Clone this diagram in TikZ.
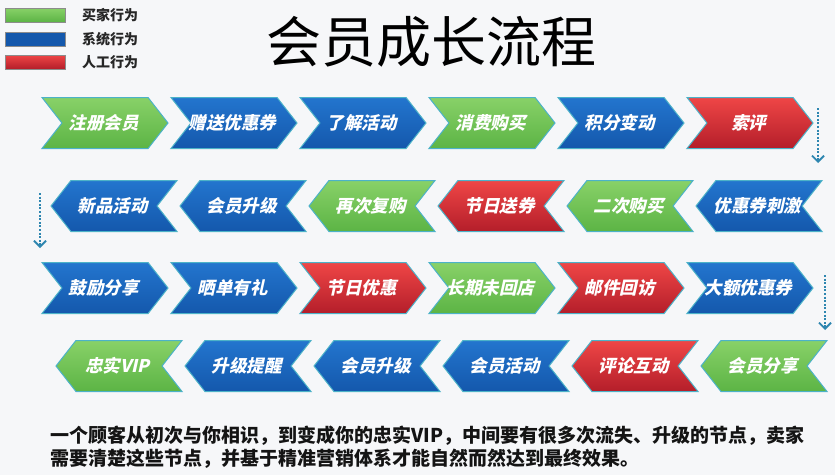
\documentclass[tikz,border=0pt]{standalone}
\usepackage{fontspec}
\usetikzlibrary{shapes.symbols,arrows.meta}
\newfontfamily\cjk{Noto Sans CJK SC}
\definecolor{gtop}{HTML}{88D168}
\definecolor{gbot}{HTML}{5CB445}
\definecolor{btop}{HTML}{2375CE}
\definecolor{bbot}{HTML}{1458AC}
\definecolor{rtop}{HTML}{EF4646}
\definecolor{rbot}{HTML}{B41E2A}
\definecolor{edge}{HTML}{4CB2C8}
\definecolor{arrowc}{HTML}{2E86B0}
\definecolor{bg}{HTML}{F6F7F9}
\tikzset{
  chev/.style={signal, signal pointer angle=104, minimum width=126pt, minimum height=51pt,
    inner sep=0pt, draw=edge, line width=1pt},
  chevR/.style={chev, signal to=east, signal from=west},
  chevL/.style={chev, signal to=west, signal from=east},
  cg/.style={top color=gtop, bottom color=gbot},
  cb/.style={top color=btop, bottom color=bbot},
  cr/.style={top color=rtop, bottom color=rbot},
  lab/.style={transform shape, xslant=0.22, inner sep=0pt, text=white,
    font=\fontsize{17.5}{18}\selectfont\cjk\bfseries},
  flowarrow/.style={draw=arrowc, line width=1.6pt, dash pattern=on 2pt off 1.6pt,
    -{Straight Barb[length=6pt,width=12pt,line width=1.8pt]}},
  legbox/.style={draw=black!45, line width=0.6pt, minimum width=60pt, minimum height=14pt, inner sep=0pt},
  legtext/.style={anchor=west, inner sep=0pt, text=black!85, font=\fontsize{14}{14}\selectfont\cjk\bfseries},
  bottomtext/.style={anchor=west, inner sep=0pt, text=black!92, font=\fontsize{19}{20}\selectfont\cjk\bfseries}
}
\begin{document}
\begin{tikzpicture}[x=1pt,y=-1pt]
\fill[bg] (0,0) rectangle (835,475);
\useasboundingbox (0,0) rectangle (835,475);

% legend
\node[legbox, cg] (lg) at (35,15) {};
\node[legbox, fill=bbot] (lb) at (35,39) {};
\node[legbox, cr] (lr) at (35,62) {};
\node[legtext] (lgt) at (82,15) {买家行为};
\node[legtext] (lbt) at (82,39) {系统行为};
\node[legtext] (lrt) at (82,62) {人工行为};

% title
\node[inner sep=0pt, font=\fontsize{55}{60}\selectfont\cjk] (title) at (431,42) {会员成长流程};

% row 1
\node[chevR, cg] (r1a) at (105,123) {};
\node[chevR, cb] (r1b) at (234,123) {};
\node[chevR, cb] (r1c) at (363,123) {};
\node[chevR, cg] (r1d) at (492,123) {};
\node[chevR, cb] (r1e) at (621,123) {};
\node[chevR, cr] (r1f) at (750,123) {};
\node[lab] (t1a) at (r1a.center) {注册会员};
\node[lab] (t1b) at (r1b.center) {赠送优惠券};
\node[lab] (t1c) at (r1c.center) {了解活动};
\node[lab] (t1d) at (r1d.center) {消费购买};
\node[lab] (t1e) at (r1e.center) {积分变动};
\node[lab] (t1f) at (r1f.center) {索评};

% row 2
\node[chevL, cb] (r2a) at (114,206) {};
\node[chevL, cb] (r2b) at (243,206) {};
\node[chevL, cg] (r2c) at (372,206) {};
\node[chevL, cr] (r2d) at (501,206) {};
\node[chevL, cg] (r2e) at (630,206) {};
\node[chevL, cb] (r2f) at (759,206) {};
\node[lab] (t2a) at (r2a.center) {新品活动};
\node[lab] (t2b) at (r2b.center) {会员升级};
\node[lab] (t2c) at (r2c.center) {再次复购};
\node[lab] (t2d) at (r2d.center) {节日送券};
\node[lab] (t2e) at (r2e.center) {二次购买};
\node[lab] (t2f) at (r2f.center) {优惠券刺激};

% row 3
\node[chevR, cb] (r3a) at (105,288) {};
\node[chevR, cb] (r3b) at (234,288) {};
\node[chevR, cr] (r3c) at (363,288) {};
\node[chevR, cg] (r3d) at (492,288) {};
\node[chevR, cr] (r3e) at (621,288) {};
\node[chevR, cb] (r3f) at (750,288) {};
\node[lab] (t3a) at (r3a.center) {鼓励分享};
\node[lab] (t3b) at (r3b.center) {晒单有礼};
\node[lab] (t3c) at (r3c.center) {节日优惠};
\node[lab] (t3d) at (r3d.center) {长期未回店};
\node[lab] (t3e) at (r3e.center) {邮件回访};
\node[lab] (t3f) at (r3f.center) {大额优惠券};

% row 4
\node[chevL, cg] (r4a) at (119,366) {};
\node[chevL, cb] (r4b) at (248,366) {};
\node[chevL, cb] (r4c) at (377,366) {};
\node[chevL, cb] (r4d) at (506,366) {};
\node[chevL, cr] (r4e) at (635,366) {};
\node[chevL, cg] (r4f) at (764,366) {};
\node[lab] (t4a) at (r4a.center) {忠实VIP};
\node[lab] (t4b) at (r4b.center) {升级提醒};
\node[lab] (t4c) at (r4c.center) {会员升级};
\node[lab] (t4d) at (r4d.center) {会员活动};
\node[lab] (t4e) at (r4e.center) {评论互动};
\node[lab] (t4f) at (r4f.center) {会员分享};

% dotted arrows between rows
\coordinate (a1s) at (818,108);
\coordinate (a1e) at (818,163);
\coordinate (a2s) at (40,193);
\coordinate (a2e) at (40,248);
\coordinate (a3s) at (825,275);
\coordinate (a3e) at (825,330);
\draw[flowarrow] (a1s) -- (a1e);
\draw[flowarrow] (a2s) -- (a2e);
\draw[flowarrow] (a3s) -- (a3e);

% bottom text
\node[bottomtext] (bt1) at (50,436) {一个顾客从初次与你相识，到变成你的忠实VIP，中间要有很多次流失、升级的节点，卖家};
\node[bottomtext] (bt2) at (50,459) {需要清楚这些节点，并基于精准营销体系才能自然而然达到最终效果。};
\end{tikzpicture}
\end{document}
